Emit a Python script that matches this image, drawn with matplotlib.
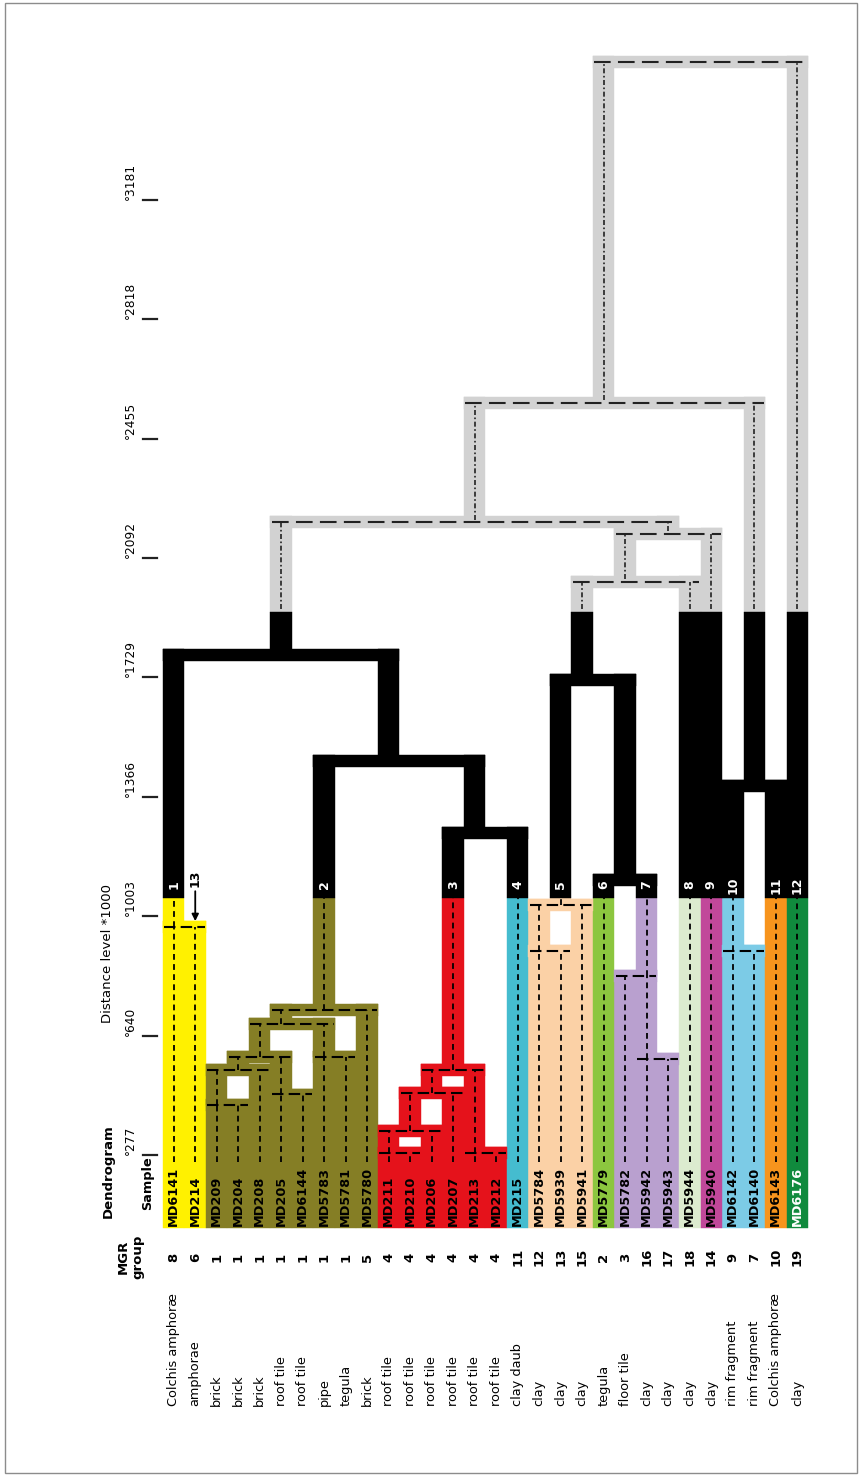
import matplotlib
matplotlib.use('Agg')
import matplotlib.pyplot as plt
from matplotlib.patches import Rectangle

# leaves, left to right
samples = ['MD6141', 'MD214', 'MD209', 'MD204', 'MD208', 'MD205', 'MD6144', 'MD5783',
           'MD5781', 'MD5780', 'MD211', 'MD210', 'MD206', 'MD207', 'MD213', 'MD212',
           'MD215', 'MD5784', 'MD5939', 'MD5941', 'MD5779', 'MD5782', 'MD5942', 'MD5943',
           'MD5944', 'MD5940', 'MD6142', 'MD6140', 'MD6143', 'MD6176']
mgr_group = [8, 6, 1, 1, 1, 1, 1, 1, 1, 5, 4, 4, 4, 4, 4, 4, 11, 12, 13, 15,
             2, 3, 16, 17, 18, 14, 9, 7, 10, 19]
material = ['Colchis amphoræ', 'amphorae', 'brick', 'brick', 'brick', 'roof tile',
            'roof tile', 'pipe', 'tegula', 'brick', 'roof tile', 'roof tile', 'roof tile',
            'roof tile', 'roof tile', 'roof tile', 'clay daub', 'clay', 'clay', 'clay',
            'tegula', 'floor tile', 'clay', 'clay', 'clay', 'clay', 'rim fragment',
            'rim fragment', 'Colchis amphoræ', 'clay']
leaf_cluster = [1, 1, 2, 2, 2, 2, 2, 2, 2, 2, 3, 3, 3, 3, 3, 3, 4, 5, 5, 5,
                6, 7, 7, 7, 8, 9, 10, 10, 11, 12]
cluster_colors = ['#fff100', '#857e25', '#e5121b', '#45bccf', '#fbd1a6', '#8cc63f',
                  '#b9a0cf', '#dcebcf', '#c1489a', '#7ccbe6', '#f7941d', '#108a3d']

# merges: node 30 is the first merge; columns give where the joined branch goes up
merge_left = [0, 2, 31, 5, 32, 7, 34, 36, 10, 14, 38, 40, 41, 17, 43, 22, 21, 26,
              20, 42, 37, 30, 44, 47, 52, 54, 51, 56, 57]
merge_right = [1, 3, 4, 6, 33, 8, 35, 9, 11, 15, 12, 13, 39, 18, 19, 23, 45, 27,
               46, 16, 49, 50, 48, 28, 24, 25, 55, 53, 29]
merge_dist = [970, 429, 535, 461, 575, 575, 675, 719, 283, 283, 350, 465, 535, 897,
              1037, 569, 821, 897, 1113, 1256, 1475, 1797, 1721, 1399, 2019, 2165,
              2201, 2563, 3600]
merge_col = [0, 2, 3, 5, 4, 7, 5, 7, 10, 14, 11, 12, 13, 17, 18, 22, 22, 26,
             21, 14, 10, 5, 19, 27, 21, 23, 14, 20, 24]

cluster_node = [30, 37, 42, 16, 44, 20, 46, 24, 25, 47, 28, 29]
tick_values = [277, 640, 1003, 1366, 1729, 2092, 2455, 2818, 3181]
cut_level = 1058
grey_level = 1928

# layout (data units: x = leaf column, y = distance)
base = 55
bar = 36
grey = '#d2d2d2'

fig = plt.figure(figsize=(8.59, 14.76), dpi=100)
ax = fig.add_axes([0, 0, 1, 1])
ax.set_xlim(-8.081, 31.872)
ax.set_ylim(-698.9, 3788.4)
ax.axis('off')

n = len(samples)
node_col = list(range(n)) + merge_col
node_h = [base] * n + merge_dist
node_cl = list(leaf_cluster)
parent = {}
for m, (a, b) in enumerate(zip(merge_left, merge_right)):
    node_cl.append(node_cl[a])
    parent[a] = n + m
    parent[b] = n + m


def box(x0, x1, y0, y1, color, z):
    ax.add_patch(Rectangle((x0, y0), x1 - x0, y1 - y0, fc=color, ec=color,
                           lw=0.3, zorder=z))


col_dash = dict(color='black', lw=1.3, dashes=(3.2, 2.4), zorder=4)
grey_vdash = dict(color='#222222', lw=1.2, dashes=(3, 1.5, 1, 1.5), zorder=4)
hdash = dict(color='black', lw=1.5, dashes=(5.5, 2.5), zorder=4)
grey_hdash = dict(color='#222222', lw=1.5, dashes=(8, 3.5), zorder=4)

# vertical branches
for node, p in parent.items():
    c = node_col[node]
    lo = node_h[node]
    top = node_h[p]
    hi = top + bar / 2
    clr = cluster_colors[node_cl[node] - 1]
    if lo < cut_level:
        box(c - 0.5, c + 0.5, lo, min(hi, cut_level), clr, 1)
    if hi > cut_level and lo < grey_level:
        box(c - 0.5, c + 0.5, max(lo, cut_level), min(hi, grey_level), 'black', 3)
    if hi > grey_level:
        box(c - 0.5, c + 0.5, max(lo, grey_level), hi, grey, 1)
    d0 = 256 if node < n else lo
    if d0 < cut_level:
        ax.plot([c, c], [d0, min(top, cut_level)], **col_dash)
    if top > grey_level:
        ax.plot([c, c], [max(d0, grey_level) + 8, top], **grey_vdash)

# horizontal branches
for m, (a, b) in enumerate(zip(merge_left, merge_right)):
    h = merge_dist[m]
    l, r = sorted([node_col[a], node_col[b]])
    if h < cut_level:
        box(l - 0.5, r + 0.5, h - bar / 2, h + bar / 2,
            cluster_colors[node_cl[n + m] - 1], 1)
        ax.plot([l - 0.45, r + 0.45], [h, h], **hdash)
    elif h < grey_level:
        box(l - 0.5, r + 0.5, h - bar / 2, h + bar / 2, 'black', 3)
    else:
        box(l - 0.5, r + 0.5, h - bar / 2, h + bar / 2, grey, 1)
        ax.plot([l - 0.45, r + 0.45], [h, h], **grey_hdash)

# cluster numbers in the black boxes
for k, node in enumerate(cluster_node):
    ax.text(node_col[node], 1098, str(k + 1), rotation=90, ha='center', va='center',
            color='white', fontsize=9, fontweight='bold', zorder=5)

ax.annotate('13', xy=(1, merge_dist[0] + bar / 2), xytext=(1, 1118),
            rotation=90, ha='center', va='center', fontsize=9, fontweight='bold',
            arrowprops=dict(arrowstyle='-|>', color='black', lw=1.3,
                            shrinkA=1, shrinkB=0, mutation_scale=10), zorder=5)

# leaf labels
for i in range(n):
    tc = 'white' if leaf_cluster[i] == 12 else 'black'
    ax.text(i, 61, samples[i], rotation=90, ha='center', va='bottom',
            fontsize=9.3, fontweight='bold', color=tc, zorder=5)
    ax.text(i, -33, str(mgr_group[i]), rotation=90, ha='center', va='center',
            fontsize=9.5, fontweight='bold')
    ax.text(i, -486, material[i], rotation=90, ha='center', va='bottom',
            fontsize=9.3)

# distance scale
for v in tick_values:
    ax.plot([-1.43, -0.78], [v, v], color='#222222', lw=1.6)
    ax.text(-2.0, v, '°%d' % v, rotation=90, ha='center', va='bottom', fontsize=8.8)

ax.text(-3.06, 678, 'Distance level *1000', rotation=90, ha='center', va='bottom',
        fontsize=9.5)
ax.text(-3.06, 85, 'Dendrogram', rotation=90, ha='center', va='bottom',
        fontsize=9.5, fontweight='bold')
ax.text(-1.2, 110, 'Sample', rotation=90, ha='center', va='bottom',
        fontsize=9.3, fontweight='bold')
ax.text(-2.0, -33, 'MGR\ngroup', rotation=90, ha='center', va='center',
        fontsize=9.5, fontweight='bold', multialignment='center')

fig.add_artist(Rectangle((5 / 859, 3 / 1476), 852 / 859, 1470 / 1476,
                         transform=fig.transFigure, fill=False, ec='#8c8c8c', lw=1))

fig.savefig('out.png', dpi=100)
